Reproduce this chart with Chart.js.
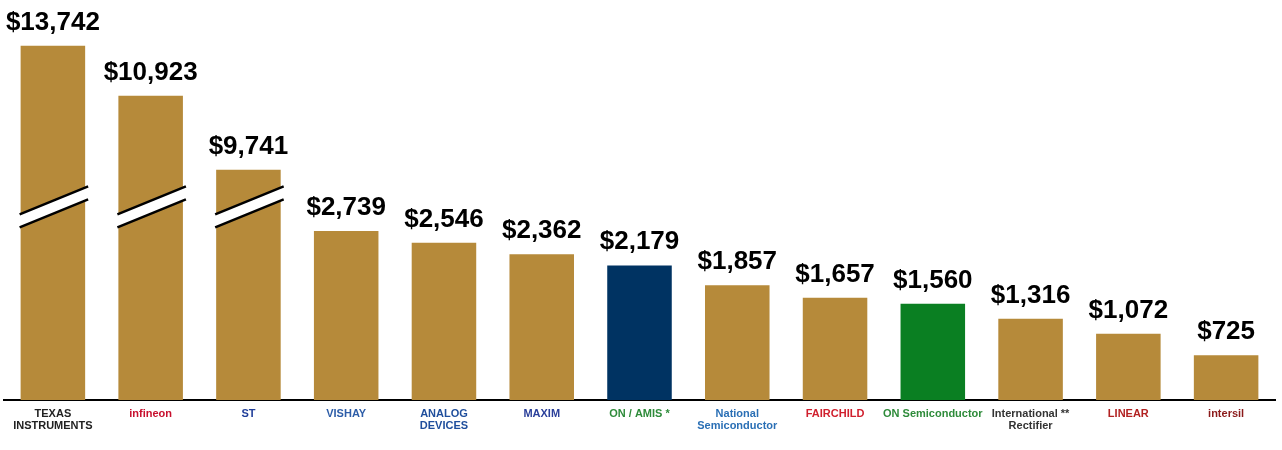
<!DOCTYPE html>
<html>
<head>
<meta charset="utf-8">
<script src="https://cdn.jsdelivr.net/npm/chart.js@4/dist/chart.umd.min.js"></script>
<style>
  body { margin: 0; background: #fff; }
  #wrap { width: 1282px; height: 450px; position: relative; }
</style>
</head>
<body>
<div id="wrap"><canvas id="revenueChart"></canvas></div>
<script>
// Companies (shown as logos in the original, text here)
const companies = [
    ["TEXAS", "INSTRUMENTS"], ["infineon"], ["ST"], ["VISHAY"], ["ANALOG", "DEVICES"],
    ["MAXIM"], ["ON / AMIS *"], ["National", "Semiconductor"], ["FAIRCHILD"],
    ["ON Semiconductor"], ["International **", "Rectifier"], ["LINEAR"], ["intersil"]
];
// Revenue in $M (the labels over the bars)
const revenue = [13742, 10923, 9741, 2739, 2546, 2362, 2179, 1857, 1657, 1560, 1316, 1072, 725];
// The first three bars are drawn on a broken axis: height on that axis
const axisValue = [5740, 4930, 3730, 2739, 2546, 2362, 2179, 1857, 1657, 1560, 1316, 1072, 725];
const brokenBars = [0, 1, 2];
const breakValue = 3130;

const gold = "#B68A3A";
const barColors = revenue.map((v, i) => i === 6 ? "#003362" : i === 9 ? "#0A7F22" : gold);
const logoColors = ["#222", "#C8102E", "#1F3D99", "#2D5DA8", "#1F4E9C", "#2A3F9A",
    "#2E8B3A", "#2A6FB5", "#D0202E", "#2E8B3A", "#333", "#B22222", "#8B1A1A"];

// value labels above the bars
const valueLabels = {
    id: "valueLabels",
    afterDatasetsDraw(chart) {
        const ctx = chart.ctx;
        const meta = chart.getDatasetMeta(0);
        ctx.save();
        ctx.font = "bold 26px 'Liberation Sans', Arial, sans-serif";
        ctx.fillStyle = "#000";
        ctx.textAlign = "center";
        ctx.textBaseline = "alphabetic";
        meta.data.forEach((bar, i) => {
            ctx.fillText("$" + revenue[i].toLocaleString("en-US"), bar.x, bar.y - 16);
        });
        ctx.restore();
    }
};

// diagonal break marks on the broken bars
const breakMarks = {
    id: "breakMarks",
    afterDatasetsDraw(chart) {
        const ctx = chart.ctx;
        const meta = chart.getDatasetMeta(0);
        const yc = chart.scales.y.getPixelForValue(breakValue);
        ctx.save();
        brokenBars.forEach(i => {
            const bar = meta.data[i];
            const x0 = bar.x - bar.width / 2 - 1;
            const x1 = bar.x + bar.width / 2 + 3;
            const rise = 14;
            const half = 6.5;
            ctx.fillStyle = "#fff";
            ctx.beginPath();
            ctx.moveTo(x0, yc + rise - half);
            ctx.lineTo(x1, yc - rise - half);
            ctx.lineTo(x1, yc - rise + half);
            ctx.lineTo(x0, yc + rise + half);
            ctx.closePath();
            ctx.fill();
            ctx.strokeStyle = "#000";
            ctx.lineWidth = 2.5;
            ctx.beginPath();
            ctx.moveTo(x0, yc + rise - half);
            ctx.lineTo(x1, yc - rise - half);
            ctx.moveTo(x0, yc + rise + half);
            ctx.lineTo(x1, yc - rise + half);
            ctx.stroke();
        });
        ctx.restore();
    }
};

const ctx = document.getElementById("revenueChart").getContext("2d");

new Chart(ctx, {
    type: "bar",
    data: {
        labels: companies,
        datasets: [{
            data: axisValue,
            backgroundColor: barColors,
            borderWidth: 0,
            categoryPercentage: 1,
            barPercentage: 0.66
        }]
    },
    options: {
        responsive: true,
        maintainAspectRatio: false,
        animation: false,
        layout: { padding: { left: 4, right: 7, top: 0, bottom: 0 } },
        plugins: {
            legend: { display: false },
            tooltip: { enabled: false }
        },
        scales: {
            x: {
                grid: { display: false, drawTicks: false },
                border: { display: true, color: "#000", width: 2 },
                ticks: {
                    padding: 8,
                    maxRotation: 0,
                    autoSkip: false,
                    color: logoColors,
                    font: { size: 11, weight: "bold", family: "'Liberation Sans', Arial, sans-serif", lineHeight: 1.1 }
                },
                afterFit: s => { s.height = 50; }
            },
            y: {
                display: false,
                min: 0,
                max: 6480
            }
        }
    },
    plugins: [valueLabels, breakMarks]
});
</script>
</body>
</html>
